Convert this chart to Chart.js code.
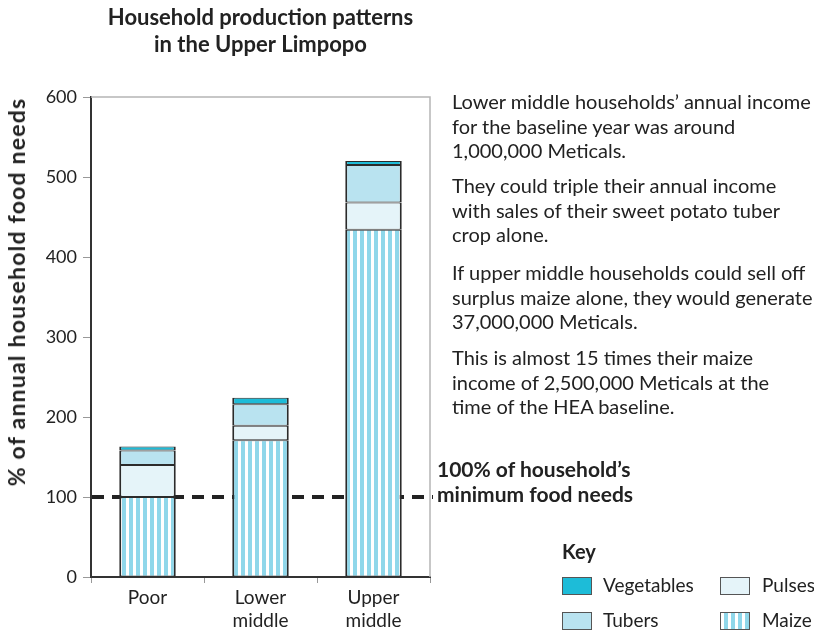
<!DOCTYPE html>
<html lang="en">
<head>
  <meta charset="UTF-8" />
  <title>Household production patterns in the Upper Limpopo</title>
  <script src="https://cdn.jsdelivr.net/npm/chart.js"></script>
  <style>
    body {
      margin: 0;
      background: #fff;
      font-family: 'Lato', sans-serif;
      color: #222;
    }
    #wrap {
      position: relative;
      width: 814px;
      height: 633px;
      overflow: hidden;
    }
    #chartBox {
      position: absolute;
      left: 0;
      top: 0;
      width: 814px;
      height: 633px;
    }
    .yTitle {
      position: absolute;
      left: 16px;
      top: 292px;
      transform: translate(-50%, -50%) rotate(-90deg);
      white-space: nowrap;
      font-weight: bold;
      font-size: 23px;
      letter-spacing: 1.2px;
    }
    .note {
      position: absolute;
      left: 452px;
      font-size: 20px;
      line-height: 24.5px;
      white-space: nowrap;
    }
    .need {
      position: absolute;
      left: 437px;
      top: 456px;
      font-size: 21px;
      line-height: 25px;
      font-weight: bold;
      white-space: nowrap;
    }
    .keyTitle {
      position: absolute;
      left: 562px;
      top: 539px;
      font-size: 20px;
      font-weight: bold;
    }
    .keyItem {
      position: absolute;
      font-size: 19px;
      line-height: 20px;
      white-space: nowrap;
    }
    .sw {
      position: absolute;
      left: 0;
      top: 0;
      width: 28px;
      height: 16px;
      border: 1px solid #555;
    }
    .keyItem span.lbl {
      position: absolute;
      white-space: nowrap;
    }
  </style>
</head>
<body>
  <div id="wrap">
    <div id="chartBox"><canvas id="hhChart"></canvas></div>
    <div class="yTitle">% of annual household food needs</div>

    <div class="note" style="top:89px">Lower middle households’ annual income<br>for the baseline year was around<br>1,000,000 Meticals.</div>
    <div class="note" style="top:173px">They could triple their annual income<br>with sales of their sweet potato tuber<br>crop alone.</div>
    <div class="note" style="top:260px">If upper middle households could sell off<br>surplus maize alone, they would generate<br>37,000,000 Meticals.</div>
    <div class="note" style="top:345px">This is almost 15 times their maize<br>income of 2,500,000 Meticals at the<br>time of the HEA baseline.</div>

    <div class="need">100% of household’s<br>minimum food needs</div>

    <div class="keyTitle">Key</div>
    <div id="key"></div>
  </div>

  <script>
    // values, % of annual household food needs
    const groups = [['Poor'], ['Lower', 'middle'], ['Upper', 'middle']];
    const maize = [100, 171, 434];
    const pulses = [40, 18, 34];
    const tubers = [18, 27, 47];
    const vegetables = [5, 8, 5];
    const needLine = 100;
    const yMax = 600;
    const yStep = 100;

    const colVeg = '#1dbcd8';
    const colTubers = '#b9e3f0';
    const colPulses = '#e5f4f9';
    const colMaize = '#8fd7ea';

    function stripePattern() {
      const c = document.createElement('canvas');
      c.width = 7;
      c.height = 10;
      const g = c.getContext('2d');
      g.fillStyle = '#fff';
      g.fillRect(0, 0, 7, 10);
      g.fillStyle = colMaize;
      g.fillRect(3, 0, 4, 10);
      return g.createPattern(c, 'repeat');
    }

    // key boxes
    const keyItems = [
      { label: 'Vegetables', bg: colVeg, x: 562, y: 577 },
      { label: 'Pulses', bg: colPulses, x: 720, y: 577 },
      { label: 'Tubers', bg: colTubers, x: 562, y: 612 },
      { label: 'Maize', bg: 'repeating-linear-gradient(90deg, #fff 0 3px, ' + colMaize + ' 3px 7px)', x: 720, y: 612 }
    ];
    const keyEl = document.getElementById('key');
    keyItems.forEach(k => {
      const d = document.createElement('div');
      d.className = 'keyItem';
      d.style.left = k.x + 'px';
      d.style.top = k.y + 'px';
      d.innerHTML = '<div class="sw" style="background:' + k.bg + '"></div>' +
        '<span class="lbl" style="left:' + (k.x === 562 ? 41 : 42) + 'px;top:-2px">' + k.label + '</span>';
      keyEl.appendChild(d);
    });

    const frameAndNeedLine = {
      id: 'frameAndNeedLine',
      beforeDatasetsDraw(chart) {
        const { ctx, chartArea } = chart;
        const { left, right, top, bottom } = chartArea;
        ctx.save();
        ctx.strokeStyle = '#b5b5b5';
        ctx.lineWidth = 1.5;
        ctx.beginPath();
        ctx.moveTo(left, top);
        ctx.lineTo(right, top);
        ctx.lineTo(right, bottom);
        ctx.stroke();

        const y = chart.scales.y.getPixelForValue(needLine);
        ctx.strokeStyle = '#222';
        ctx.lineWidth = 4;
        ctx.setLineDash([12, 8]);
        ctx.beginPath();
        ctx.moveTo(left + 1, y);
        ctx.lineTo(right + 3, y);
        ctx.stroke();
        ctx.restore();
      }
    };

    Chart.defaults.font.family = 'Lato';
    Chart.defaults.color = '#222';

    const border = { top: 1, bottom: 1, left: 2, right: 2 };
    const ctx = document.getElementById('hhChart').getContext('2d');
    new Chart(ctx, {
      type: 'bar',
      data: {
        labels: groups,
        datasets: [
          { label: 'Maize', data: maize, backgroundColor: stripePattern() },
          { label: 'Pulses', data: pulses, backgroundColor: colPulses },
          { label: 'Tubers', data: tubers, backgroundColor: colTubers },
          { label: 'Vegetables', data: vegetables, backgroundColor: colVeg }
        ].map(d => Object.assign(d, {
          borderColor: '#2b2b2b',
          borderWidth: border,
          borderSkipped: false,
          barPercentage: 1,
          categoryPercentage: 0.5
        }))
      },
      options: {
        responsive: true,
        maintainAspectRatio: false,
        animation: false,
        layout: { padding: { left: 0, right: 384, top: 0, bottom: 0 } },
        plugins: {
          legend: { display: false },
          tooltip: { enabled: false },
          title: {
            display: true,
            fullSize: false,
            text: ['Household production patterns', 'in the Upper Limpopo'],
            font: { size: 22, weight: 'bold', lineHeight: 27 / 22 },
            color: '#222',
            padding: { top: 4, bottom: 39 }
          }
        },
        scales: {
          x: {
            stacked: true,
            border: { color: '#333', width: 2 },
            grid: { drawOnChartArea: false, drawTicks: true, tickLength: 6, tickColor: '#999' },
            ticks: { font: { size: 19, lineHeight: 23 / 19 }, padding: 3, color: '#222' },
            afterFit(s) { s.height = 56; }
          },
          y: {
            stacked: true,
            min: 0,
            max: yMax,
            border: { color: '#333', width: 2 },
            grid: { drawOnChartArea: false, drawTicks: true, tickLength: 8, tickColor: '#999' },
            ticks: { stepSize: yStep, font: { size: 18 }, padding: 6, color: '#222' },
            afterFit(s) { s.width = 91; }
          }
        }
      },
      plugins: [frameAndNeedLine]
    });
  </script>
</body>
</html>
